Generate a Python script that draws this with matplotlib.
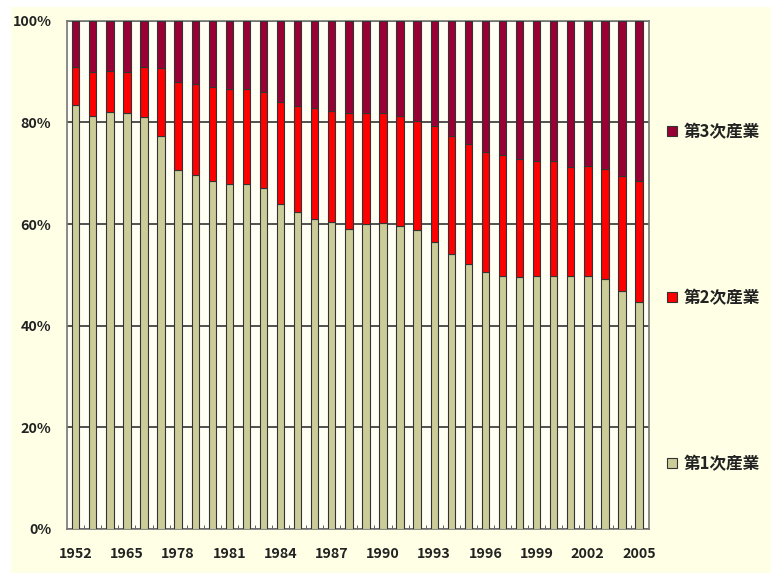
import matplotlib
matplotlib.use("Agg")
import matplotlib.pyplot as plt
from matplotlib.patches import Rectangle, Patch

plt.rcParams['font.family'] = ['Noto Sans CJK JP', 'DejaVu Sans']

years = ["1952", "1955", "1960", "1965", "1970", "1975"] + [str(y) for y in range(1978, 2006)]
primary = [83.4, 81.3, 82.1, 81.8, 81.1, 77.3, 70.6, 69.6, 68.5, 67.9, 67.9, 67.0, 63.9, 62.4,
           61.0, 60.3, 59.1, 60.1, 60.2, 59.6, 58.8, 56.5, 54.2, 52.1, 50.5, 49.8, 49.6, 49.8,
           49.8, 49.8, 49.8, 49.1, 46.8, 44.7]
secondary = [7.4, 8.7, 8.0, 8.2, 9.7, 13.4, 17.3, 17.9, 18.5, 18.7, 18.7, 18.9, 20.2, 20.9,
             21.9, 22.0, 22.7, 21.7, 21.6, 21.7, 21.4, 22.7, 23.1, 23.7, 23.7, 23.7, 23.1, 22.5,
             22.5, 21.5, 21.6, 21.7, 22.6, 23.8]
tertiary = [9.2, 10.0, 9.9, 10.0, 9.2, 9.3, 12.1, 12.5, 13.0, 13.4, 13.4, 14.1, 15.9, 16.7,
            17.1, 17.7, 18.2, 18.2, 18.2, 18.7, 19.8, 20.8, 22.7, 24.2, 25.8, 26.5, 27.3, 27.7,
            27.7, 28.7, 28.6, 29.2, 30.6, 31.5]
labels = ["第1次産業", "第2次産業", "第3次産業"]
colors = ["#cccc99", "#ff0000", "#990033"]

fig = plt.figure(figsize=(7.71, 5.73), dpi=100, facecolor="white")
fig.patches.append(Rectangle((11 / 771, 0), 1, 1 - 7 / 573, transform=fig.transFigure,
                             facecolor="#ffffe6", edgecolor="none", zorder=-10))
ax = fig.add_axes([66.7 / 771, 1 - 529 / 573, (649.3 - 66.7) / 771, (529 - 20.7) / 573])
ax.set_facecolor("#fffff4")

x = list(range(len(years)))
bottom2 = primary
bottom3 = [p + s for p, s in zip(primary, secondary)]
kw = dict(width=0.43, edgecolor="#333333", linewidth=0.8, zorder=3)
ax.bar(x, primary, color=colors[0], **kw)
ax.bar(x, secondary, bottom=bottom2, color=colors[1], **kw)
ax.bar(x, tertiary, bottom=bottom3, color=colors[2], **kw)

ax.set_ylim(0, 100)
ax.set_xlim(-0.53, 33.6)
ax.set_yticks([0, 20, 40, 60, 80, 100])
ax.set_yticklabels(["0%", "20%", "40%", "60%", "80%", "100%"])
ax.set_xticks(x[::3])
ax.set_xticklabels(years[::3])
ax.set_xticks([i + 0.5 for i in x[:-1]], minor=True)
ax.tick_params(axis="x", which="major", length=0, pad=13)
ax.tick_params(axis="x", which="minor", direction="in", length=3, color="#444444")
ax.tick_params(axis="y", length=0, pad=11)
for t in ax.get_xticklabels() + ax.get_yticklabels():
    t.set_fontweight("bold")
    t.set_fontsize(10.3)
    t.set_color("#222222")
ax.yaxis.grid(True, color="#333333", linewidth=1.2, zorder=1)
ax.set_axisbelow(True)
for s in ax.spines.values():
    s.set_color("#777777")
    s.set_linewidth(1.2)

handles = [Patch(facecolor=c, edgecolor="#333333", linewidth=0.8) for c in colors]
leg = fig.legend(handles[::-1], labels[::-1], loc="upper left",
                 bbox_to_anchor=(652 / 771, 1 - 108 / 573), frameon=False,
                 handlelength=0.6, handleheight=0.6, handletextpad=0.4,
                 labelspacing=8.88, prop=dict(size=12, weight="bold"))
for t in leg.get_texts():
    t.set_color("#222222")

fig.savefig("out.png", dpi=100, facecolor=fig.get_facecolor())
